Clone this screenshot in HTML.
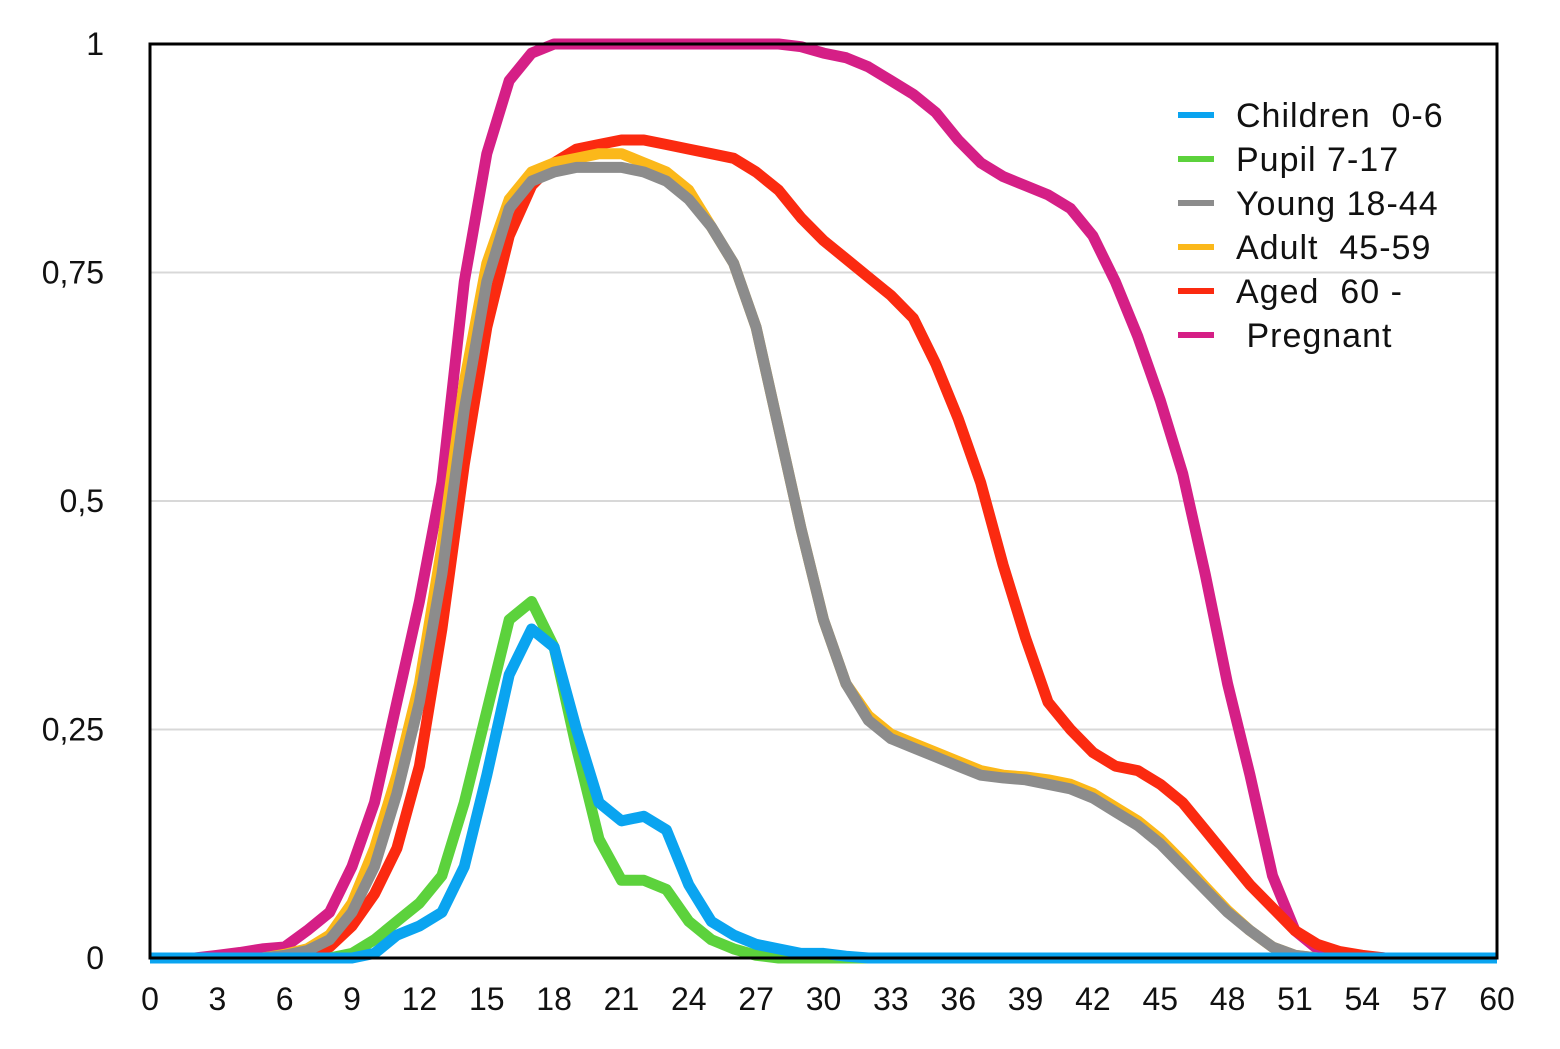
<!DOCTYPE html>
<html><head><meta charset="utf-8"><style>
html,body{margin:0;padding:0;background:#fff}
svg{display:block}
text{font-family:"Liberation Sans",sans-serif;fill:#111}
</style></head><body>
<svg id="chart" width="1560" height="1049" viewBox="0 0 1560 1049" xmlns="http://www.w3.org/2000/svg">
<g id="grid"></g>
<g id="yaxis"></g>
<g id="xaxis"></g>
<g id="series"></g>
<rect x="150" y="44" width="1347" height="914" fill="none" stroke="#000" stroke-width="3"/>
<g id="legend"></g>
</svg>
<script>
const hours=[];for(let i=0;i<=60;i++)hours.push(i);
const xTicks=[0,3,6,9,12,15,18,21,24,27,30,33,36,39,42,45,48,51,54,57,60];
const yTicks=[0,0.25,0.5,0.75,1];
const yTickLabels=["0","0,25","0,5","0,75","1"];
const seriesNames=["Children  0-6","Pupil 7-17","Young 18-44","Adult  45-59","Aged  60 -","Pregnant"];
const seriesColors=["#0aa4f0","#5cd23c","#8c8c8c","#fbb81a","#fb2a10","#d51f86"];
const children=[0,0,0,0,0,0,0,0,0,0,0.005,0.025,0.035,0.05,0.1,0.2,0.31,0.36,0.34,0.25,0.17,0.15,0.155,0.14,0.08,0.04,0.025,0.015,0.01,0.005,0.005,0.002,0,0,0,0,0,0,0,0,0,0,0,0,0,0,0,0,0,0,0,0,0,0,0,0,0,0,0,0,0];
const pupil=[0,0,0,0,0,0,0,0,0,0.005,0.02,0.04,0.06,0.09,0.17,0.27,0.37,0.39,0.34,0.23,0.13,0.085,0.085,0.075,0.04,0.02,0.01,0.003,0,0,0,0,0,0,0,0,0,0,0,0,0,0,0,0,0,0,0,0,0,0,0,0,0,0,0,0,0,0,0,0,0];
const young=[0,0,0,0,0,0,0.003,0.008,0.02,0.05,0.1,0.18,0.28,0.42,0.6,0.74,0.82,0.85,0.86,0.865,0.865,0.865,0.86,0.85,0.83,0.8,0.76,0.69,0.58,0.47,0.37,0.3,0.26,0.24,0.23,0.22,0.21,0.2,0.197,0.195,0.19,0.185,0.175,0.16,0.145,0.125,0.1,0.075,0.05,0.03,0.012,0.003,0,0,0,0,0,0,0,0,0];
const adult=[0,0,0,0,0,0,0.004,0.01,0.025,0.06,0.12,0.2,0.3,0.45,0.63,0.76,0.83,0.86,0.87,0.875,0.88,0.88,0.87,0.86,0.84,0.8,0.76,0.69,0.58,0.47,0.37,0.3,0.265,0.245,0.235,0.225,0.215,0.205,0.2,0.198,0.195,0.19,0.18,0.165,0.15,0.13,0.105,0.078,0.052,0.03,0.012,0.003,0,0,0,0,0,0,0,0,0];
const aged=[0,0,0,0,0,0,0,0.003,0.012,0.035,0.07,0.12,0.21,0.36,0.54,0.69,0.79,0.845,0.87,0.885,0.89,0.895,0.895,0.89,0.885,0.88,0.875,0.86,0.84,0.81,0.785,0.765,0.745,0.725,0.7,0.65,0.59,0.52,0.43,0.35,0.28,0.25,0.225,0.21,0.205,0.19,0.17,0.14,0.11,0.08,0.055,0.03,0.015,0.007,0.003,0,0,0,0,0,0];
const pregnant=[0,0,0,0.003,0.006,0.01,0.012,0.03,0.05,0.1,0.17,0.28,0.39,0.52,0.74,0.88,0.96,0.99,1,1,1,1,1,1,1,1,1,1,1,0.997,0.99,0.985,0.975,0.96,0.945,0.925,0.895,0.87,0.855,0.845,0.835,0.82,0.79,0.74,0.68,0.61,0.53,0.42,0.3,0.2,0.09,0.03,0.01,0.005,0.002,0,0,0,0,0,0];
const allSeries=[children,pupil,young,adult,aged,pregnant];
const drawOrder=[5,4,3,2,1,0];
const X0=150,X1=1497,Y0=958,Y1=44;
function sx(v){return X0+(v-0)/(60-0)*(X1-X0);}
function sy(v){return Y0-(v-0)/(1-0)*(Y0-Y1);}
const NS="http://www.w3.org/2000/svg";
function mk(tag,parent){const e=document.createElementNS(NS,tag);parent.appendChild(e);return e;}
const grid=document.getElementById('grid'),ya=document.getElementById('yaxis'),xa=document.getElementById('xaxis'),ser=document.getElementById('series'),leg=document.getElementById('legend');
yTicks.forEach((t,i)=>{
  if(t>0&&t<1){const l=mk('line',grid);
  
  
  l.setAttribute('x1',X0);l.setAttribute('x2',X1);l.setAttribute('y1',sy(t));l.setAttribute('y2',sy(t));l.setAttribute('stroke','#d8d8d8');l.setAttribute('stroke-width','2');}
  const tx=mk('text',ya);
  
  
  tx.setAttribute('x',104);tx.setAttribute('y',sy(t)+11);tx.setAttribute('text-anchor','end');tx.setAttribute('font-size','32');tx.textContent=yTickLabels[i];
});
xTicks.forEach(t=>{
  const tx=mk('text',xa);
  
  
  tx.setAttribute('x',sx(t));tx.setAttribute('y',1010);tx.setAttribute('text-anchor','middle');tx.setAttribute('font-size','32');tx.textContent=t;
});
drawOrder.forEach(si=>{
  const d=allSeries[si].map((v,i)=>(i?'L':'M')+sx(hours[i]).toFixed(1)+' '+sy(v).toFixed(1)).join(' ');
  const p=mk('path',ser);
  
  
  p.setAttribute('d',d);p.setAttribute('fill','none');p.setAttribute('stroke',seriesColors[si]);p.setAttribute('stroke-width','11');p.setAttribute('stroke-linejoin','round');
});
seriesNames.forEach((n,i)=>{
  const y=115+i*44;
  const l=mk('line',leg);
  
  
  l.setAttribute('x1',1178);l.setAttribute('x2',1214);l.setAttribute('y1',y);l.setAttribute('y2',y);l.setAttribute('stroke',seriesColors[i]);l.setAttribute('stroke-width','6');
  const tx=mk('text',leg);
  
  
  tx.setAttribute('x',1236);tx.setAttribute('y',y+12);tx.setAttribute('font-size','34');tx.setAttribute('letter-spacing','1');tx.style.whiteSpace='pre';tx.textContent=(i==5?' ':'')+n;
});
</script>
</body></html>
